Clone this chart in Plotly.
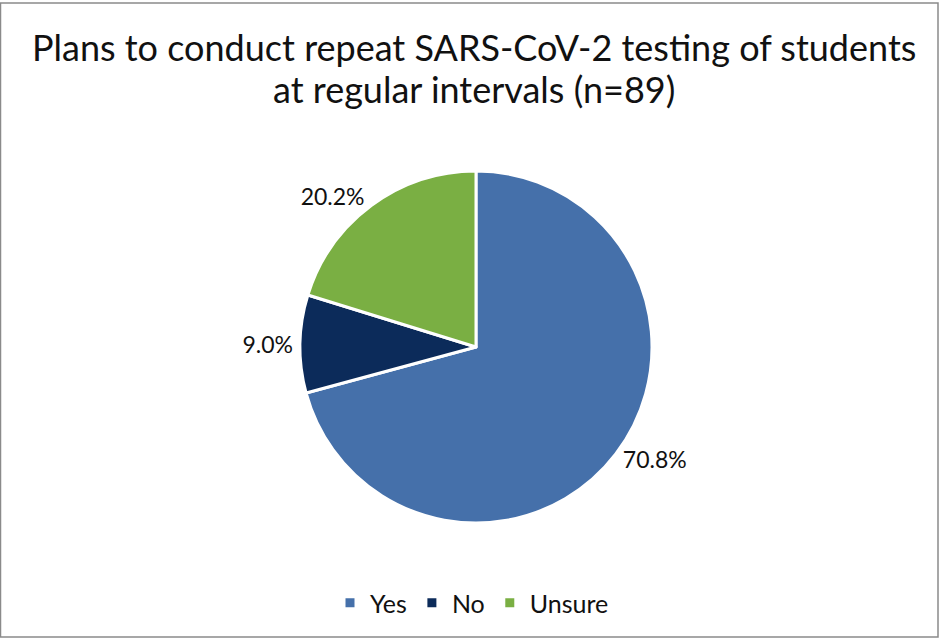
import plotly.graph_objects as go

# Ответы (n=89)
labels = ['Yes', 'No', 'Unsure']
counts = [63, 8, 18]
colors = ['#4570AA', '#0C2B5A', '#7AAF43']

title_lines = ['Plans to conduct repeat SARS-CoV-2 testing of students',
               'at regular intervals (n=89)']

W, H = 941, 639
cx, cy, r = 476, 347, 176

fig = go.Figure()

fig.add_trace(go.Pie(
    labels=labels,
    values=counts,
    sort=False,
    direction='clockwise',
    rotation=0,
    marker=dict(colors=colors, line=dict(color='white', width=3)),
    texttemplate='%{percent:.1%}',
    textposition='outside',
    textfont=dict(family='Lato', size=23, color='#111111'),
    domain=dict(x=[(cx - r) / W, (cx + r) / W],
                y=[(H - cy - r) / H, (H - cy + r) / H]),
    hoverinfo='label+percent',
))

# заголовок в две строки
for text, ypix in zip(title_lines, [47, 89]):
    fig.add_annotation(
        text=text, xref='paper', yref='paper',
        x=474 / W, y=1 - ypix / H, xanchor='center', yanchor='middle',
        showarrow=False,
        font=dict(family='Lato', size=36, color='#111111'),
    )

fig.update_layout(
    legend=dict(
        orientation='h',
        x=472 / W, xanchor='center',
        y=36 / H, yanchor='middle',
        font=dict(family='Lato', size=25, color='#111111'),
        itemwidth=30,
    ),
    shapes=[dict(
        type='rect', xref='paper', yref='paper',
        x0=0.5 / W, x1=1 - 3 / W, y0=2 / H, y1=1 - 3 / H,
        line=dict(color='#8a8a8a', width=1.5),
    )],
    paper_bgcolor='white',
    plot_bgcolor='white',
    margin=dict(l=0, r=0, t=0, b=0),
    width=W,
    height=H,
)

fig.write_html('out.html', config={'displayModeBar': False},
               post_script="document.body.style.margin='0';")
